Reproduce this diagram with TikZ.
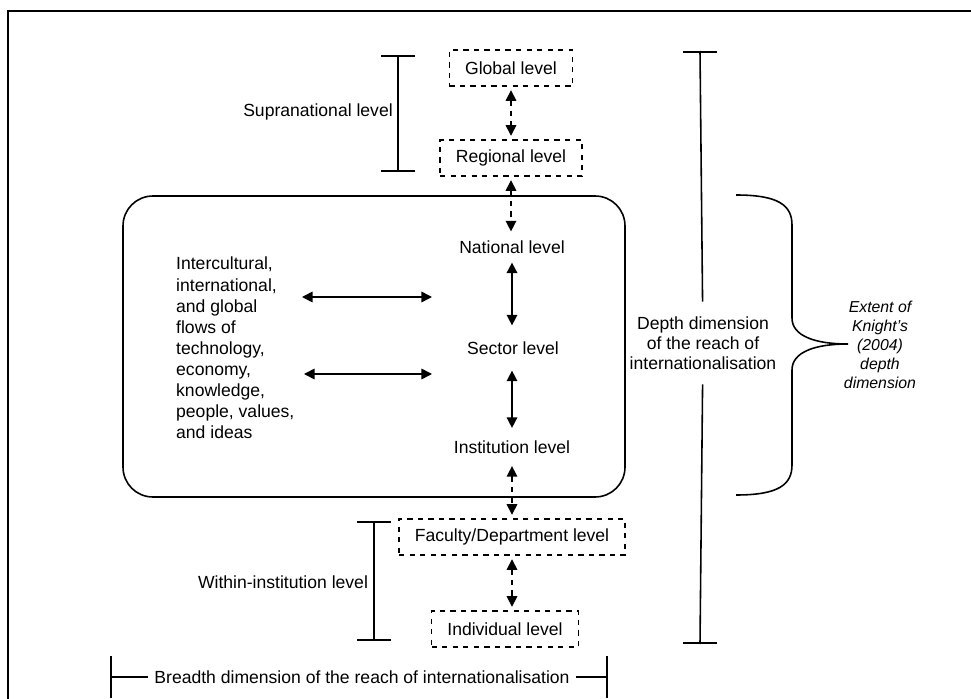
\documentclass[tikz,border=0pt]{standalone}
\usepackage{fontspec}
\setmainfont{Liberation Sans}
\usetikzlibrary{arrows.meta}
\tikzset{
  levelbox/.style={draw,dashed,line width=0.8pt,inner xsep=9pt,minimum height=0.72cm},
  leveltext/.style={inner sep=3pt},
  dasharrow/.style={{Triangle[length=6pt,width=6pt]}-{Triangle[length=6pt,width=6pt]},dashed,line width=0.8pt,shorten <=2pt,shorten >=2pt},
  flowarrow/.style={{Triangle[length=6pt,width=6pt]}-{Triangle[length=6pt,width=6pt]},line width=0.9pt},
  bracket/.style={{Bar[width=19pt]}-{Bar[width=19pt]},line width=0.9pt}
}
\begin{document}
\begin{tikzpicture}[x=0.02cm,y=-0.02cm,font=\fontsize{10}{12}\selectfont]
      \useasboundingbox (0,0) rectangle (971,699);
      \draw[line width=1.1pt] (971,11) -- (8,11) -- (8,699);
      \draw[line width=0.9pt,rounded corners=17pt] (123,196) rectangle (625,497);
      \node[levelbox] (global) at (511,68) {Global level};
      \node[levelbox] (regional) at (511,158) {Regional level};
      \node[leveltext] (national) at (512,247) {National level};
      \node[leveltext] (sector) at (513,348) {Sector level};
      \node[leveltext] (institution) at (512,447) {Institution level};
      \node[levelbox] (faculty) at (512,537) {Faculty/Department level};
      \node[levelbox] (individual) at (505,629) {Individual level};
      \node[align=left,anchor=west] (flows) at (170,348) {Intercultural,\\international,\\and global\\flows of\\technology,\\economy,\\knowledge,\\people, values,\\and ideas};
      \node (supra) at (318,112) {Supranational level};
      \node (within) at (283,582) {Within-institution level};
      \node[align=center,font=\fontsize{10}{11.3}\selectfont] (depth) at (703,343) {Depth dimension\\of the reach of\\internationalisation};
      \node[align=center,font=\fontsize{9}{10.8}\selectfont\itshape] (extent) at (880,345) {Extent of\\Knight's\\(2004)\\depth\\dimension};
      \node (breadth) at (362,677) {Breadth dimension of the reach of internationalisation};
      \coordinate (fl1) at (302,297);
      \coordinate (fr1) at (432,297);
      \coordinate (fl2) at (304,374);
      \coordinate (fr2) at (432,374);
      \coordinate (stop) at (398,55);
      \coordinate (sbot) at (398,172);
      \coordinate (wtop) at (374,521);
      \coordinate (wbot) at (374,641);
      \coordinate (dtop) at (700,51);
      \coordinate (dbot) at (700,644);
      \coordinate (bl) at (110,677);
      \coordinate (br) at (608,677);
      \begin{scope}
        \draw[dasharrow] (global) -- (regional);
        \draw[dasharrow] (regional) -- (regional |- national.north);
        \draw[flowarrow,shorten <=2pt,shorten >=6pt] (national) -- (national |- sector.north);
        \draw[flowarrow,shorten <=6pt,shorten >=4pt] (national |- sector.south) -- (institution);
        \draw[dasharrow,shorten <=4pt] (institution) -- (faculty);
        \draw[dasharrow] (faculty) -- (faculty |- individual.north);
        \draw[flowarrow] (fl1) -- (fr1);
        \draw[flowarrow] (fl2) -- (fr2);
        \draw[bracket] (stop) -- (sbot);
        \draw[bracket] (wtop) -- (wbot);
        \draw[bracket,-,shorten >=5pt] (dtop) -- (depth);
        \draw[bracket,-,shorten <=5pt] (depth) -- (dbot);
        \draw[{Bar[width=19pt]}-,line width=0.9pt] (dtop) -- ++(0,1);
        \draw[{Bar[width=19pt]}-,line width=0.9pt] (dbot) -- ++(0,-1);
        \draw[{Bar[width=24pt]}-,line width=0.9pt] (bl) -- (breadth);
        \draw[-{Bar[width=24pt]},line width=0.9pt] (breadth) -- (br);
      \end{scope}
      \draw[line width=0.9pt] (736,195) .. controls (778,195) and (792,205) .. (792,225) -- (792,318)
        .. controls (792,336) and (815,344) .. (848,344)
        .. controls (815,344) and (792,352) .. (792,370) -- (792,465)
        .. controls (792,485) and (778,495) .. (736,495);
    \end{tikzpicture}
\end{document}
